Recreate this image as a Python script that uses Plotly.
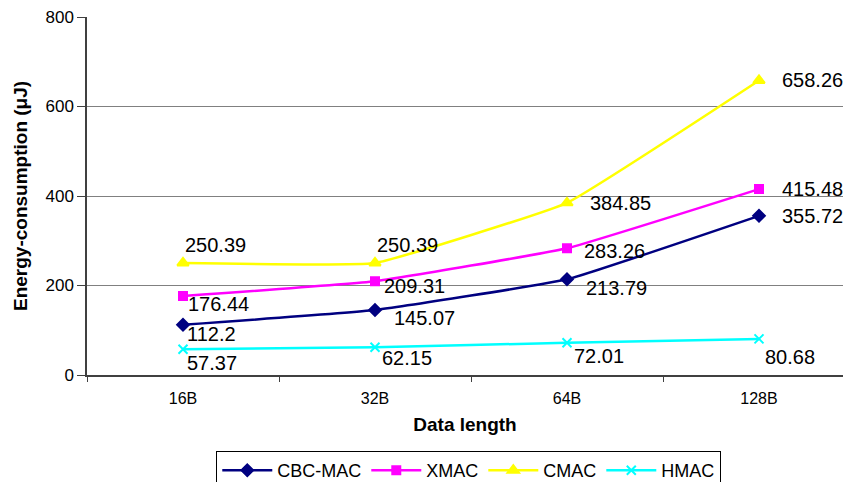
import plotly.graph_objects as go

# Data length categories and per-algorithm energy consumption (µJ)
lengths = ["16B", "32B", "64B", "128B"]
cbc_mac = [112.2, 145.07, 213.79, 355.72]
xmac = [176.44, 209.31, 283.26, 415.48]
cmac = [250.39, 250.39, 384.85, 658.26]
hmac = [57.37, 62.15, 72.01, 80.68]

series = [
    ("CBC-MAC", cbc_mac, "#000080", "diamond", 9),
    ("XMAC", xmac, "#FF00FF", "square", 8),
    ("CMAC", cmac, "#FFFF00", "triangle-up", 10),
    ("HMAC", hmac, "#00FFFF", "x-thin", 9),
]

# label offsets (px) relative to each point: (xshift, yshift)
label_offsets = {
    "CBC-MAC": [(2, -9), (17, -8), (17, -9), (21, 0)],
    "XMAC": [(3, -8), (7, -5), (15, -3), (21, 0)],
    "CMAC": [(0, 18), (0, 18), (21, 0), (21, 0)],
    "HMAC": [(2, -14), (5, -11), (5, -13), (4, -18)],
}

fig = go.Figure()
annotations = []
for name, vals, color, symbol, size in series:
    fig.add_trace(go.Scatter(
        x=lengths, y=vals, name=name, mode="lines+markers",
        line=dict(color=color, width=2.5, shape="spline", smoothing=0.3),
        marker=dict(symbol=symbol, size=size, color=color,
                    line=dict(color=color, width=2)),
    ))
    for i, v in enumerate(vals):
        dx, dy = label_offsets[name][i]
        annotations.append(dict(
            x=i, y=v, xref="x", yref="y", text=f"{v:g}",
            showarrow=False, xanchor="left", yanchor="middle",
            xshift=dx, yshift=dy,
            font=dict(family="Liberation Sans, Arial", size=20, color="#000000"),
        ))

# vertical y-axis title placed left of the tick labels
annotations.append(dict(
    x=0, y=0.5, xref="paper", yref="paper", xshift=-67,
    text="<b>Energy-consumption (μJ)</b>", textangle=-90,
    showarrow=False, xanchor="center", yanchor="middle",
    font=dict(family="Liberation Sans, Arial", size=19, color="#000000"),
))

fig.update_layout(
    width=843, height=482,
    margin=dict(l=87, r=0, t=17, b=107, autoexpand=False),
    paper_bgcolor="white", plot_bgcolor="white",
    font=dict(family="Liberation Sans, Arial", color="#000000"),
    annotations=annotations,
    showlegend=True,
    legend=dict(
        orientation="h", x=0.505, xanchor="center",
        y=1 - 451 / 482, yref="container", yanchor="top",
        bordercolor="#000000", borderwidth=1, bgcolor="white",
        font=dict(size=18), itemwidth=50,
    ),
    xaxis=dict(
        type="category", range=[-0.5, 3.4375],
        tickson="boundaries", ticks="outside", ticklen=5, tickcolor="#404040",
        showline=True, linecolor="#404040", linewidth=1.5,
        showgrid=False, tickfont=dict(size=16), ticklabelstandoff=8,
        title=dict(text="<b>Data length</b>", font=dict(size=19), standoff=12),
    ),
    yaxis=dict(
        range=[0, 800], tickvals=[0, 200, 400, 600, 800],
        ticks="outside", ticklen=8, tickcolor="#404040",
        showline=True, linecolor="#404040", linewidth=1.5,
        showgrid=True, gridcolor="#808080", gridwidth=1,
        zeroline=False, tickfont=dict(size=17),
    ),
)

fig.write_html("out.html")
